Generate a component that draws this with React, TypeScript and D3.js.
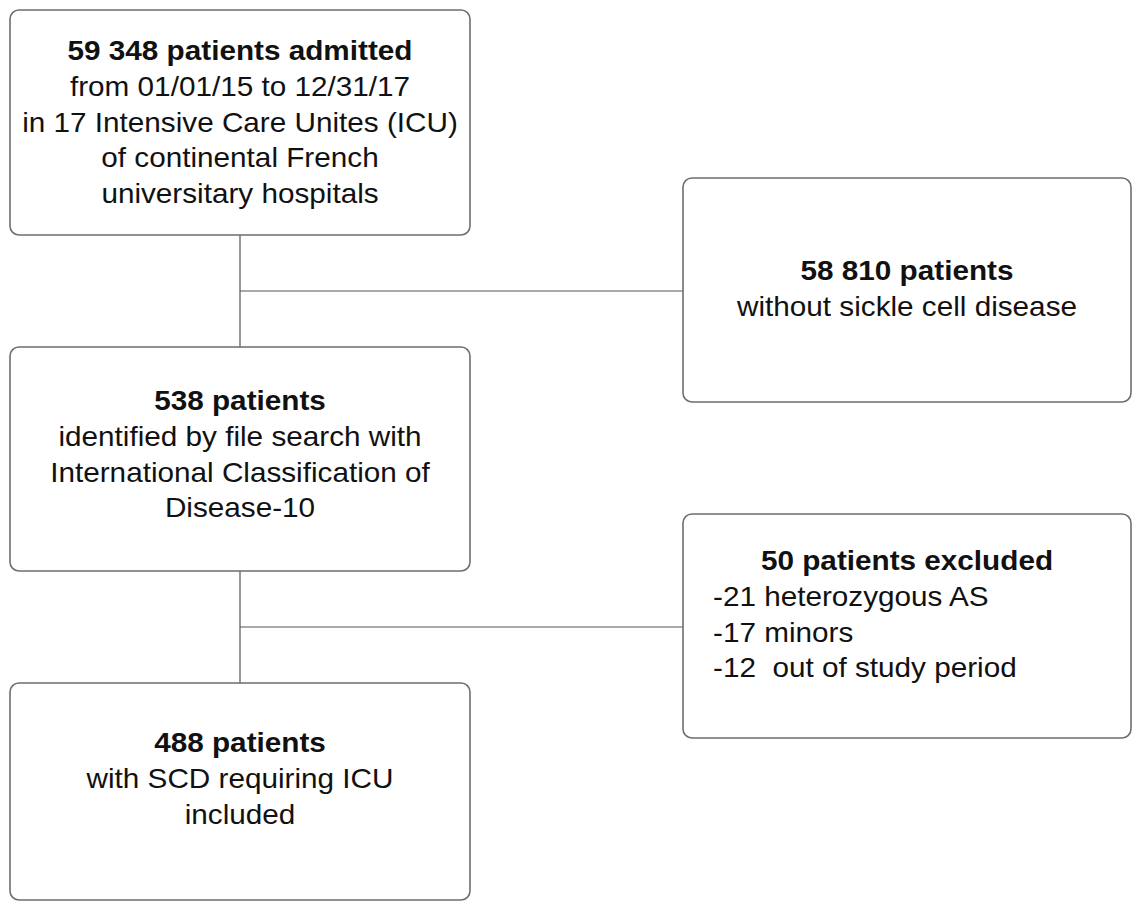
import React, { useEffect, useRef } from 'react';
import * as d3 from 'd3';

// flowchart content
const boxTitles = [
  '59 348 patients admitted',
  '58 810 patients',
  '538 patients',
  '50 patients excluded',
  '488 patients',
];

const boxLines = [
  ['from 01/01/15 to 12/31/17', 'in 17 Intensive Care Unites (ICU)', 'of continental French', 'universitary hospitals'],
  ['without sickle cell disease'],
  ['identified by file search with', 'International Classification of', 'Disease-10'],
  ['-21 heterozygous AS', '-17 minors', '-12  out of study period'],
  ['with SCD requiring ICU', 'included'],
];

// which box leads to which
const links = [
  { from: 0, to: 2, side: 1 },
  { from: 2, to: 4, side: 3 },
];

const WIDTH = 1134;
const HEIGHT = 902;

export default function App() {
  const ref = useRef<SVGSVGElement>(null);

  useEffect(() => {
    const svg = d3.select(ref.current);
    svg.selectAll('*').remove();

    // box geometry
    const layout = [
      { x: 10, y: 10, w: 460, h: 225, first: 60, list: false },
      { x: 683, y: 178, w: 448, h: 224, first: 280, list: false },
      { x: 10, y: 347, w: 460, h: 224, first: 410, list: false },
      { x: 683, y: 514, w: 448, h: 224, first: 570, list: true },
      { x: 10, y: 683, w: 460, h: 217, first: 752, list: false },
    ];
    const lineH = 35.8;
    const sx = 1.1;

    // connectors
    const g = svg.append('g').attr('stroke', '#555').attr('stroke-width', 1.2).attr('fill', 'none');
    links.forEach((l) => {
      const a = layout[l.from];
      const b = layout[l.to];
      const s = layout[l.side];
      const cx = a.x + a.w / 2;
      g.append('line').attr('x1', cx).attr('x2', cx).attr('y1', a.y + a.h).attr('y2', b.y);
      const my = (a.y + a.h + b.y) / 2;
      g.append('line').attr('x1', cx).attr('x2', s.x).attr('y1', my).attr('y2', my);
    });

    // boxes
    svg.selectAll('.box')
      .data(layout)
      .enter().append('rect')
      .attr('class', 'box')
      .attr('x', (d) => d.x)
      .attr('y', (d) => d.y)
      .attr('width', (d) => d.w)
      .attr('height', (d) => d.h)
      .attr('rx', 9)
      .attr('fill', '#fff')
      .attr('stroke', '#6e6e6e')
      .attr('stroke-width', 1.6);

    layout.forEach((b, i) => {
      const cx = b.x + b.w / 2;
      svg.append('text')
        .attr('transform', `translate(${cx},${b.first}) scale(${sx},1)`)
        .attr('text-anchor', 'middle')
        .attr('font-family', '"Liberation Sans", Arial, sans-serif')
        .attr('font-size', 27)
        .attr('font-weight', 'bold')
        .attr('fill', '#111')
        .text(boxTitles[i]);
      boxLines[i].forEach((t, j) => {
        const y = b.first + lineH * (j + 1);
        svg.append('text')
          .attr('transform', `translate(${b.list ? b.x + 30 : cx},${y}) scale(${sx},1)`)
          .attr('text-anchor', b.list ? 'start' : 'middle')
          .attr('font-family', '"Liberation Sans", Arial, sans-serif')
          .attr('font-size', 27)
          .attr('fill', '#111')
          .attr('xml:space', 'preserve')
          .style('white-space', 'pre')
          .text(t);
      });
    });
  }, []);

  return (
    <svg
      ref={ref}
      width={WIDTH}
      height={HEIGHT}
      style={{ position: 'absolute', left: 0, top: 0, background: '#fff' }}
    />
  );
}
